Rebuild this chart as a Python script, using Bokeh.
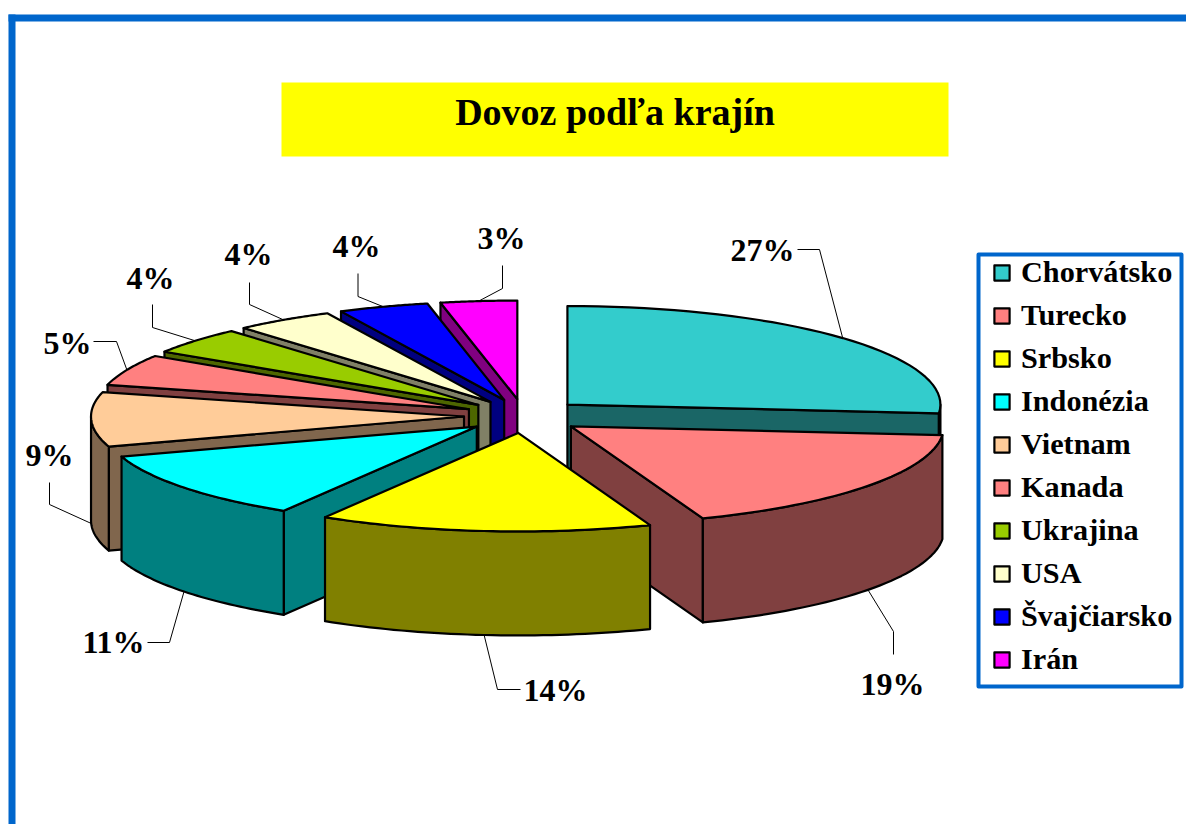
import math
from bokeh.plotting import figure
from bokeh.models import Range1d, Legend, LegendItem, ColumnDataSource
from bokeh.core.properties import value
from bokeh.embed import file_html
from bokeh.resources import INLINE

# ---- data
countries = ["Chorvátsko", "Turecko", "Srbsko", "Indonézia", "Vietnam",
             "Kanada", "Ukrajina", "USA", "Švajčiarsko", "Irán"]
percent_labels = [27, 19, 14, 11, 9, 5, 4, 4, 4, 3]
# slice sizes as they are actually drawn, in % of the full turn
drawn_share = [26.4, 17.8, 14.4, 11.4, 8.9, 5.1, 4.4, 4.3, 3.9, 3.3]
top_colors = ["#33CCCC", "#FF8080", "#FFFF00", "#00FFFF", "#FFCC99",
              "#FF8080", "#99CC00", "#FFFFCC", "#0000FF", "#FF00FF"]
side_colors = ["#1A6666", "#804040", "#808000", "#008080", "#80664D",
               "#804040", "#4D6600", "#808066", "#000080", "#800080"]

# ---- layout
W, H = 1186, 824
CX, CY = 523, 415.5
RX, RY = 373, 98.5
EX, EY = 59.5, 17
DEPTH = 104
BLUE = "#0066CC"
SERIF = "Liberation Serif"
# label centre, elbow and outer end of each leader (page pixels)
label_xy = [(762, 249), (892, 683), (555, 689), (113, 641), (49, 454),
            (67, 342), (150, 277), (248, 253), (356, 245), (501, 237)]
leader_end = [(797, 249), (893, 654), (520, 689), (147, 642), (49, 482),
              (93, 341), (152, 304), (249, 282), (357.5, 273), (502, 265)]
leader_elbow = [(819, 249), (893, 631), (497, 689), (169, 642), (49, 504),
                (116, 341), (152, 327), (249, 304), (357.5, 296), (502, 288)]

p = figure(width=W, height=H, x_range=Range1d(0, W), y_range=Range1d(H, 0),
           output_backend="svg", toolbar_location=None, min_border=0,
           outline_line_color=None, background_fill_color="white")
p.axis.visible = False
p.grid.visible = False

# frame
p.quad(left=[8, 8], right=[15, W], top=[14, 14], bottom=[H, 21],
       fill_color=BLUE, line_color=None)
# title band
p.quad(left=[281], right=[948], top=[82], bottom=[156], fill_color="#FFFF00", line_color=None)
p.text(x=[614.5], y=[111.5], text=["Dovoz podľa krajín"], text_font=value(SERIF),
       text_font_style="bold", text_font_size="38px", text_align="center",
       text_baseline="middle", text_color="black")


def pt(a, t, dz=0.0):
    rad = math.radians(t)
    return a[0] + RX * math.sin(rad), a[1] - RY * math.cos(rad) + dz


def arc(a, t0, t1, dz=0.0, n=40):
    return [pt(a, t0 + (t1 - t0) * i / n, dz) for i in range(n + 1)]


bounds = [0.0]
for s in drawn_share:
    bounds.append(bounds[-1] + s * 360 / sum(drawn_share))

slices = []
for i in range(len(countries)):
    t0, t1 = bounds[i], bounds[i + 1]
    mid = math.radians((t0 + t1) / 2)
    apex = (CX + EX * math.sin(mid), CY - EY * math.cos(mid))
    slices.append((t0, t1, apex))

top_renderers = {}


def draw_poly(pts, color):
    xs = [q[0] for q in pts]
    ys = [q[1] for q in pts]
    return p.patch(xs, ys, fill_color=color, line_color="black", line_width=2.2,
                   line_join="round")


# back to front
order = [9, 8, 7, 6, 5, 4, 3, 0, 1, 2]
for i in order:
    t0, t1, a = slices[i]
    side = side_colors[i]
    # flat faces turned to the viewer
    if 180 < t0 < 360:
        r = pt(a, t0)
        draw_poly([a, r, (r[0], r[1] + DEPTH), (a[0], a[1] + DEPTH)], side)
    if 0 < t1 < 180:
        r = pt(a, t1)
        draw_poly([a, r, (r[0], r[1] + DEPTH), (a[0], a[1] + DEPTH)], side)
    # rim wall
    w0, w1 = max(t0, 90), min(t1, 270)
    if w1 > w0:
        draw_poly(arc(a, w0, w1) + arc(a, w1, w0, DEPTH), side)
    top_renderers[i] = draw_poly([a] + arc(a, t0, t1), top_colors[i])

# leaders and labels
for i in range(len(countries)):
    t0, t1, a = slices[i]
    mid = (t0 + t1) / 2
    dz = DEPTH if math.cos(math.radians(mid)) < 0 else 0
    anchor = pt(a, mid, dz)
    p.line([leader_end[i][0], leader_elbow[i][0], anchor[0]],
           [leader_end[i][1], leader_elbow[i][1], anchor[1]],
           line_color="black", line_width=1)

src = ColumnDataSource(dict(x=[q[0] for q in label_xy], y=[q[1] for q in label_xy],
                            t=[f"{v}%" for v in percent_labels]))
p.text(x="x", y="y", text="t", source=src, text_font=value(SERIF), text_font_style="bold",
       text_font_size="32px", text_align="center", text_baseline="middle", text_color="black")

# legend frame, with the library's legend on top of it
p.quad(left=[978], right=[1181], top=[254], bottom=[686], fill_color="white",
       line_color=BLUE, line_width=4, line_join="round")
legend = Legend(
    items=[LegendItem(label=c, renderers=[top_renderers[i]]) for i, c in enumerate(countries)],
    location=(992, 147), orientation="vertical", margin=0,
    padding=5, spacing=8, glyph_width=19, glyph_height=19, label_standoff=10,
    label_text_font=SERIF, label_text_font_style="bold", label_text_font_size="30.25px",
    label_text_color="black", border_line_color=None,
    background_fill_alpha=0.0,
)
p.add_layout(legend, "center")

open("out.html", "w").write(file_html(p, INLINE))
